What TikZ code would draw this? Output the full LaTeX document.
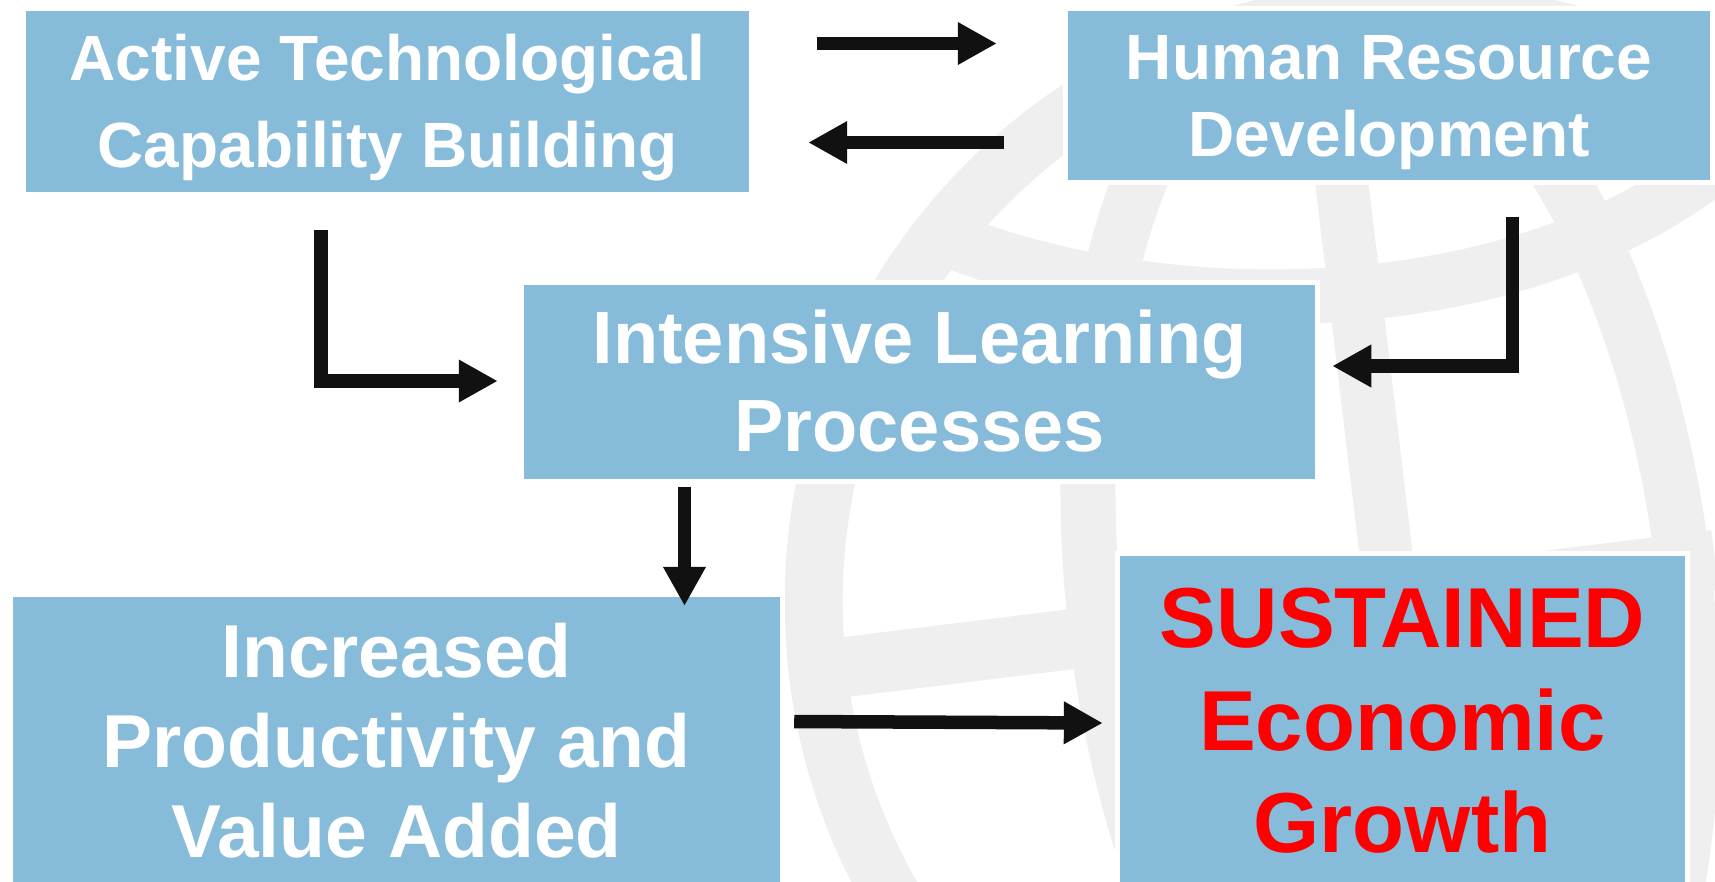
\documentclass[tikz,border=0pt]{standalone}
\usepackage{fontspec}
\setmainfont{Liberation Sans}
\usetikzlibrary{arrows.meta}

\definecolor{boxblue}{RGB}{134,187,217}
\definecolor{globegray}{RGB}{240,239,240}
\definecolor{arrowblack}{RGB}{17,17,17}
\definecolor{growthred}{RGB}{255,0,0}

% full ascent/descent of a line, so that the text sits like in the slides
\newcommand{\fstrut}{\rule[-0.212em]{0pt}{1.117em}}

\begin{document}
\begin{tikzpicture}[x=0.01cm, y=-0.01cm]
		\tikzstyle{box}=[fill=boxblue, draw=white, line width=0.05cm, inner sep=0pt, outer sep=0pt, align=center, text=white]
		\tikzstyle{arr}=[draw=arrowblack, line width=0.135cm, -{Triangle[length=0.39cm, width=0.40cm]}]
		\tikzstyle{globe}=[draw=globegray]
		\useasboundingbox (0, 0) rectangle (1715, 881);

		% faint globe behind everything
		\draw[globe, line width=0.58cm] (1405, 602) circle [radius=5.91cm];
		\begin{scope}
			\clip (1405, 602) circle [radius=5.62cm];
			\draw[globe, line width=0.55cm, rotate around={7:(1390, 600)}] (1390, 600) ellipse [x radius=2.95cm, y radius=6cm];
			\draw[globe, line width=0.53cm] (1320, 0) -- (1425, 881);
			\draw[globe, line width=0.6cm] (780, 675) -- (1715, 560);
			\draw[globe, line width=0.55cm] (870, 200) .. controls (1060, 320) and (1480, 350) .. (1715, 165);
		\end{scope}

			\node[box, minimum width=7.27cm, minimum height=1.85cm, font=\bfseries\fontsize{18.2}{24.75}\selectfont] (act) at (387.5, 101.5) {\fstrut Active Technological\\Capability Building\fstrut};
			\node[box, minimum width=6.46cm, minimum height=1.73cm, font=\bfseries\fontsize{18.2}{21.9}\selectfont] (hrd) at (1389, 95.5) {\fstrut Human Resource\\Development\fstrut};
			\node[box, minimum width=7.95cm, minimum height=1.98cm, font=\bfseries\fontsize{21.05}{25.04}\selectfont] (ilp) at (919.5, 382) {\fstrut Intensive Learning\\Processes\fstrut};
			\node[box, minimum width=7.71cm, minimum height=2.93cm, font=\bfseries\fontsize{21.34}{25.47}\selectfont] (ipv) at (396.5, 741.5) {\fstrut Increased\\Productivity and\\Value Added\fstrut};
			\node[box, minimum width=5.69cm, minimum height=3.33cm, text=growthred, font=\bfseries\fontsize{24.2}{29.02}\selectfont] (seg) at (1402.5, 720.5) {\fstrut SUSTAINED\\Economic\\Growth\fstrut};

			\draw[arr] ([shift={(66,-58)}]act.east) -- ([shift={(-69,-52)}]hrd.west);
			\draw[arr] ([shift={(-62,47)}]hrd.west) -- ([shift={(57,41)}]act.east);
			\draw[arr] ([shift={(-66.5,36)}]act.south) |- ([shift={(-24,-1)}]ilp.west);
			\draw[arr] ([shift={(123.5,35)}]hrd.south) |- ([shift={(15,-16)}]ilp.east);
			\draw[arr] ([shift={(-235,6)}]ilp.south) -- ([shift={(288,11)}]ipv.north);
			\draw[arr] ([shift={(12,-20)}]ipv.east) -- ([shift={(-15,2.5)}]seg.west);
		\end{tikzpicture}
\end{document}
